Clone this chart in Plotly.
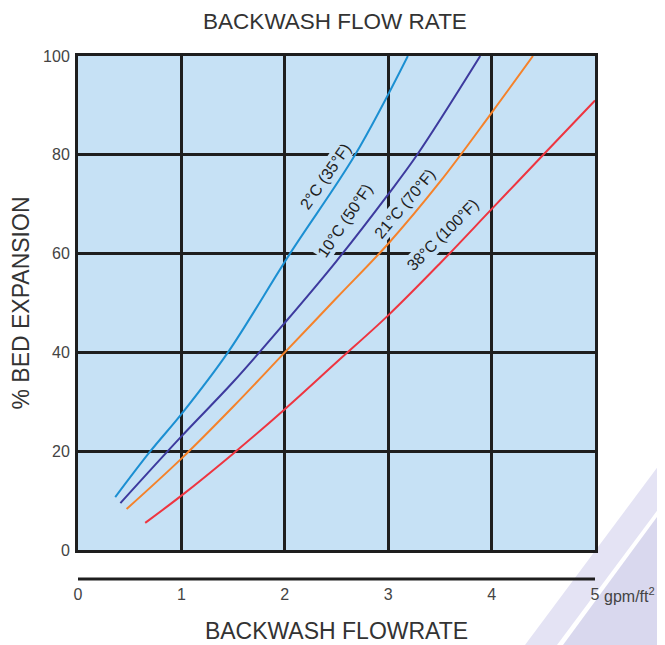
import plotly.graph_objects as go

# ---- data ----
x_ticks = [0, 1, 2, 3, 4, 5]
y_ticks = [0, 20, 40, 60, 80, 100]

t2_x = [0.36, 0.70, 1.00, 1.45, 2.05, 2.68, 3.19]
t2_y = [10.7, 20.0, 27.5, 40.0, 60.0, 80.0, 100.0]

t10_x = [0.41, 1.00, 1.50, 2.00, 2.50, 3.00, 3.28, 3.89]
t10_y = [9.5, 23.0, 34.0, 46.0, 58.5, 72.0, 80.0, 100.0]

t21_x = [0.47, 1.00, 1.50, 2.00, 2.50, 3.00, 3.50, 4.00, 4.40]
t21_y = [8.3, 18.5, 29.0, 40.0, 51.0, 62.0, 74.5, 88.5, 100.0]

t38_x = [0.65, 1.00, 1.50, 2.00, 2.50, 3.00, 3.50, 4.00, 4.50, 5.00]
t38_y = [5.5, 11.0, 19.5, 28.5, 38.0, 47.5, 58.0, 69.0, 80.0, 91.0]

labels = ["2°C (35°F)", "10°C (50°F)", "21°C (70°F)", "38°C (100°F)"]
label_x = [2.39, 2.58, 3.16, 3.53]
label_y = [75.7, 66.8, 70.2, 63.8]
label_angle = [-55, -56, -50, -45]

colors = ["#1b8fd2", "#3d3a9e", "#f5822a", "#ee3540"]
BG = "#c6e1f5"
INK = "#1e1e1e"
FONT = "Arial, Liberation Sans, sans-serif"

# The page body has an 8px margin, so the figure is 8px smaller than the window.
W, H = 657, 637

fig = go.Figure()
for xs, ys, c in [(t2_x, t2_y, colors[0]), (t10_x, t10_y, colors[1]),
                  (t21_x, t21_y, colors[2]), (t38_x, t38_y, colors[3])]:
    fig.add_trace(go.Scatter(x=xs, y=ys, mode="lines",
                             line=dict(color=c, width=2, shape="spline"),
                             hoverinfo="skip", cliponaxis=True))

for t, lx, ly, a in zip(labels, label_x, label_y, label_angle):
    fig.add_annotation(x=lx, y=ly, xref="x", yref="y", text=t, showarrow=False,
                       textangle=a, font=dict(family=FONT, size=16, color=INK),
                       bgcolor=BG, borderpad=1)


def px(xp):  # page x -> paper x
    return (xp - 78) / 517


def py(yp):  # page y -> paper y
    return (550 - yp) / 494


# x-axis unit label
fig.add_annotation(x=5, y=py(595), xref="x", yref="paper", text="gpm/ft<sup>2</sup>",
                   showarrow=False, xanchor="left", yanchor="middle", xshift=7,
                   font=dict(family=FONT, size=16, color="#444"))

shapes = [
    # decorative stripes (bottom-right)
    dict(type="path", xref="paper", yref="paper", layer="below",
         path="M %f %f L %f %f L %f %f L %f %f Z" % (
             px(525), py(645), px(557), py(645), px(665), py(500), px(665), py(457)),
         fillcolor="#e4e3f4", line=dict(width=0)),
    dict(type="path", xref="paper", yref="paper", layer="below",
         path="M %f %f L %f %f L %f %f Z" % (
             px(563), py(645), px(665), py(645), px(665), py(506)),
         fillcolor="#d9d8ee", line=dict(width=0)),
    # plot background
    dict(type="rect", xref="paper", yref="paper", layer="below",
         x0=0, x1=1, y0=0, y1=1, fillcolor=BG, line=dict(width=0)),
    # separate x-axis line below the chart
    dict(type="line", xref="x", yref="paper", x0=0, x1=5, y0=py(579), y1=py(579),
         line=dict(color=INK, width=3)),
]

fig.update_layout(
    width=W, height=H,
    margin=dict(l=70, r=70, t=48, b=95, autoexpand=False),
    paper_bgcolor="white", plot_bgcolor="rgba(0,0,0,0)",
    showlegend=False,
    shapes=shapes,
    title=dict(text="BACKWASH FLOW RATE", x=327 / W, xanchor="center",
               y=1 - 13 / H, yanchor="middle", automargin=False,
               font=dict(family=FONT, size=22.5, color="#333")),
    font=dict(family=FONT, color="#444"),
)
fig.update_xaxes(range=[0, 5], tickvals=x_ticks, ticktext=[str(v) for v in x_ticks],
                 showgrid=True, gridcolor=INK, gridwidth=3,
                 showline=True, linecolor=INK, linewidth=3, mirror=True,
                 zeroline=False, ticks="", ticklabelstandoff=28, automargin=False,
                 tickfont=dict(family=FONT, size=16, color="#444"),
                 title=dict(text="BACKWASH FLOWRATE", standoff=21,
                            font=dict(family=FONT, size=23, color="#333")))
fig.update_yaxes(range=[0, 100], tickvals=y_ticks,
                 showgrid=True, gridcolor=INK, gridwidth=3,
                 showline=True, linecolor=INK, linewidth=3, mirror=True,
                 zeroline=False, ticks="", ticklabelstandoff=2, automargin=False,
                 tickfont=dict(family=FONT, size=16, color="#444"),
                 title=dict(text="% BED EXPANSION", standoff=12,
                            font=dict(family=FONT, size=23, color="#333")))

fig.write_html("out.html")
